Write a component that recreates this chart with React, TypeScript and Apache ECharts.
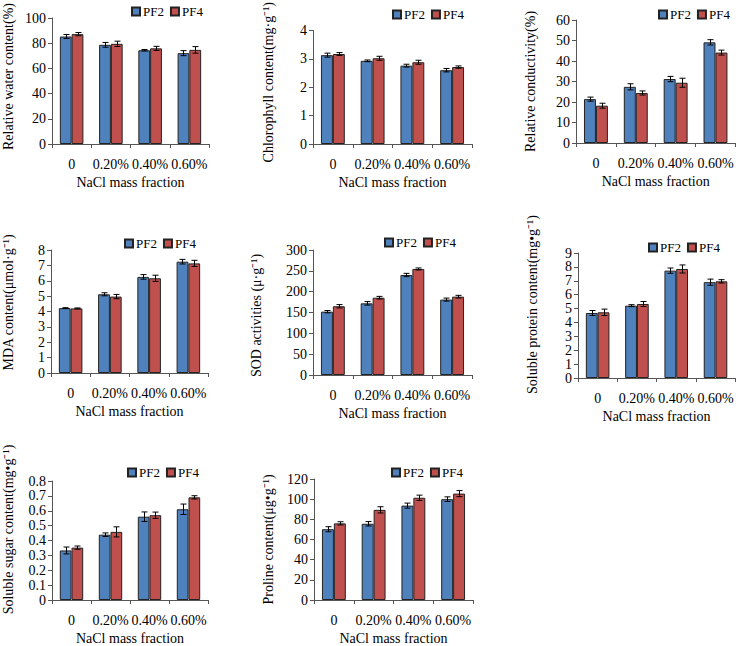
import React, { useEffect, useRef } from "react";
import * as echarts from "echarts";

const categories = ["0", "0.20%", "0.40%", "0.60%"];
const seriesNames = ["PF2", "PF4"];

const waterPF2 = [85.3, 78.7, 74.4, 72.1];
const waterPF4 = [87.2, 79.5, 75.9, 74.7];
const waterErrPF2 = [1.6, 1.9, 0.6, 2.0];
const waterErrPF4 = [1.3, 2.1, 1.6, 2.6];

const chlPF2 = [3.13, 2.93, 2.76, 2.6];
const chlPF4 = [3.17, 3.02, 2.88, 2.71];
const chlErrPF2 = [0.07, 0.03, 0.05, 0.06];
const chlErrPF4 = [0.05, 0.07, 0.07, 0.04];

const condPF2 = [21.4, 27.4, 31.2, 49.1];
const condPF4 = [18.2, 24.4, 29.4, 44.1];
const condErrPF2 = [1.0, 1.5, 1.3, 1.3];
const condErrPF4 = [1.2, 1.0, 2.2, 1.2];

const mdaPF2 = [4.22, 5.12, 6.25, 7.24];
const mdaPF4 = [4.2, 4.97, 6.16, 7.13];
const mdaErrPF2 = [0.03, 0.1, 0.15, 0.15];
const mdaErrPF4 = [0.03, 0.14, 0.2, 0.2];

const sodPF2 = [152, 172, 240, 181];
const sodPF4 = [165, 185.5, 254.5, 188];
const sodErrPF2 = [2.8, 4.2, 4, 3.6];
const sodErrPF4 = [4, 3.2, 2.4, 3.2];

const protPF2 = [4.68, 5.21, 7.73, 6.9];
const protPF4 = [4.73, 5.33, 7.85, 6.96];
const protErrPF2 = [0.18, 0.07, 0.19, 0.22];
const protErrPF4 = [0.23, 0.18, 0.29, 0.12];

const sugarPF2 = [0.333, 0.439, 0.56, 0.61];
const sugarPF4 = [0.352, 0.458, 0.57, 0.69];
const sugarErrPF2 = [0.023, 0.012, 0.032, 0.035];
const sugarErrPF4 = [0.011, 0.034, 0.021, 0.011];

const proPF2 = [70.2, 75.6, 93.6, 100];
const proPF4 = [76, 89.4, 101.4, 105.5];
const proErrPF2 = [2.5, 2.2, 2.5, 2.3];
const proErrPF4 = [1.6, 3.1, 2.6, 3.0];

const yTicks = [
  { max: 100, interval: 20 },
  { max: 4, interval: 1 },
  { max: 60, interval: 10 },
  { max: 8, interval: 1 },
  { max: 300, interval: 50 },
  { max: 9, interval: 1 },
  { max: 0.8, interval: 0.1 },
  { max: 120, interval: 20 },
];

const yNames = [
  "Relative water content(%)",
  "Chlorophyll content(mg·g⁻¹)",
  "Relative conductivity(%)",
  "MDA content(μmol·g⁻¹)",
  "SOD activities (μ·g⁻¹)",
  "Soluble protein content(mg•g⁻¹)",
  "Soluble sugar content(mg•g⁻¹)",
  "Proline content(μg•g⁻¹)",
];
const xName = "NaCl mass fraction";

const values = [
  [waterPF2, waterPF4, waterErrPF2, waterErrPF4],
  [chlPF2, chlPF4, chlErrPF2, chlErrPF4],
  [condPF2, condPF4, condErrPF2, condErrPF4],
  [mdaPF2, mdaPF4, mdaErrPF2, mdaErrPF4],
  [sodPF2, sodPF4, sodErrPF2, sodErrPF4],
  [protPF2, protPF4, protErrPF2, protErrPF4],
  [sugarPF2, sugarPF4, sugarErrPF2, sugarErrPF4],
  [proPF2, proPF4, proErrPF2, proErrPF4],
];

// layout (pixels); nameShift > 0 moves the rotated y-axis name upward
const layouts = [
  { left: 49, top: 18, width: 160, height: 126, nameGap: 37, nameShift: 9, lgLeft: 131, lgTop: 5 },
  { left: 313, top: 19, width: 159, height: 125, nameGap: 38, nameShift: 10, lgLeft: 392, lgTop: 8 },
  { left: 576, top: 20, width: 164, height: 123, nameGap: 39, nameShift: 0, lgLeft: 658, lgTop: 8 },
  { left: 49, top: 250, width: 159, height: 123, nameGap: 36, nameShift: 18, lgLeft: 124, lgTop: 237 },
  { left: 313, top: 250, width: 159, height: 125, nameGap: 50, nameShift: -6, lgLeft: 384, lgTop: 236 },
  { left: 578, top: 253, width: 162, height: 125, nameGap: 39, nameShift: 22, lgLeft: 648, lgTop: 241 },
  { left: 50, top: 481, width: 158, height: 123, nameGap: 37, nameShift: 22, lgLeft: 127, lgTop: 466 },
  { left: 314, top: 479, width: 159, height: 125, nameGap: 39, nameShift: 0, lgLeft: 391, lgTop: 466 },
];

const COLORS = ["#4F81BD", "#C0504D"];
const FONT = "Liberation Serif";

function buildOption() {
  const grid: any[] = [];
  const xAxis: any[] = [];
  const yAxis: any[] = [];
  const legend: any[] = [];
  const series: any[] = [];

  layouts.forEach((L, i) => {
    grid.push({ left: L.left, top: L.top, width: L.width, height: L.height, containLabel: false });
    xAxis.push({
      type: "category",
      gridIndex: i,
      data: categories,
      name: xName,
      nameLocation: "middle",
      nameGap: 31,
      nameTextStyle: { fontFamily: FONT, fontSize: 14, color: "#000" },
      axisLine: { show: true, lineStyle: { color: "#555", width: 1 } },
      axisTick: { show: true, length: 4, lineStyle: { color: "#555" } },
      axisLabel: { fontFamily: FONT, fontSize: 14, color: "#000", margin: 13, interval: 0 },
      splitLine: { show: false },
    });
    const pad = L.nameShift >= 0 ? [0, 0, 0, L.nameShift] : [0, -L.nameShift, 0, 0];
    yAxis.push({
      type: "value",
      gridIndex: i,
      min: 0,
      max: yTicks[i].max,
      interval: yTicks[i].interval,
      name: yNames[i],
      nameLocation: "middle",
      nameGap: L.nameGap,
      nameTextStyle: { fontFamily: FONT, fontSize: 14, color: "#000", padding: pad },
      axisLine: { show: true, lineStyle: { color: "#555", width: 1 } },
      axisTick: { show: true, length: 4, lineStyle: { color: "#555" } },
      axisLabel: { fontFamily: FONT, fontSize: 14, color: "#000", margin: 6 },
      splitLine: { show: false },
    });
    legend.push({
      left: L.lgLeft,
      top: L.lgTop,
      padding: 0,
      itemWidth: 8,
      itemHeight: 8,
      itemGap: 6,
      icon: "rect",
      selectedMode: false,
      data: seriesNames,
      textStyle: { fontFamily: FONT, fontSize: 13, color: "#000", padding: [0, 0, 0, -2] },
    });
    const [a, b, ea, eb] = values[i];
    [a, b].forEach((arr, k) => {
      series.push({
        type: "bar",
        name: seriesNames[k],
        xAxisIndex: i,
        yAxisIndex: i,
        data: arr,
        barGap: "0%",
        barCategoryGap: "40%",
        itemStyle: { color: COLORS[k], borderColor: "#222", borderWidth: 1 },
        emphasis: { disabled: true },
      });
    });
    const errData: number[][] = [];
    categories.forEach((_, c) => {
      errData.push([c, a[c], ea[c], 0]);
      errData.push([c, b[c], eb[c], 1]);
    });
    series.push({
      type: "custom",
      name: "err" + i,
      xAxisIndex: i,
      yAxisIndex: i,
      z: 10,
      data: errData,
      encode: { x: 0, y: 1 },
      renderItem: (params: any, api: any) => {
        const cat = api.value(0);
        const v = api.value(1);
        const e = api.value(2);
        const which = api.value(3);
        const bw = api.size([1, 0])[0];
        const off = (which === 0 ? -1 : 1) * bw * 0.15;
        const t = api.coord([cat, v + e]);
        const bt = api.coord([cat, v - e]);
        const x = Math.round(t[0] + off) + 0.5;
        const cap = 3;
        const st = { stroke: "#000", lineWidth: 1 };
        return {
          type: "group",
          children: [
            { type: "line", shape: { x1: x, y1: t[1], x2: x, y2: bt[1] }, style: st },
            { type: "line", shape: { x1: x - cap, y1: t[1], x2: x + cap, y2: t[1] }, style: st },
            { type: "line", shape: { x1: x - cap, y1: bt[1], x2: x + cap, y2: bt[1] }, style: st },
          ],
        };
      },
    });
  });

  return {
    animation: false,
    backgroundColor: "#fff",
    textStyle: { fontFamily: FONT },
    grid,
    xAxis,
    yAxis,
    legend,
    series,
  };
}

export default function App() {
  const ref = useRef<HTMLDivElement>(null);
  useEffect(() => {
    if (!ref.current) return;
    const chart = echarts.init(ref.current, undefined, { renderer: "svg" });
    chart.setOption(buildOption() as any);
    return () => chart.dispose();
  }, []);
  return (
    <div
      ref={ref}
      style={{ position: "absolute", left: 0, top: 0, width: 736, height: 646, background: "#fff" }}
    />
  );
}
